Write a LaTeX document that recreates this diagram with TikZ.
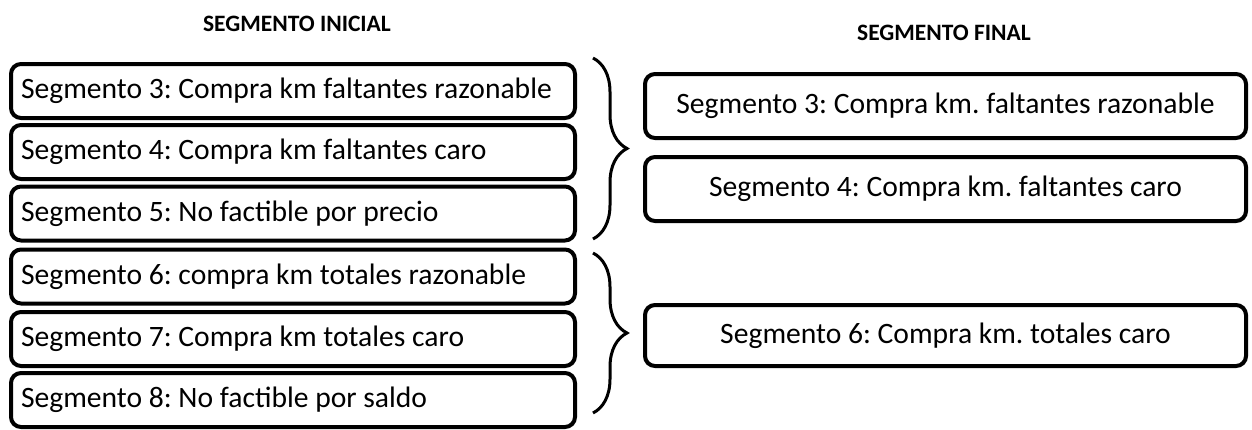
\documentclass[tikz,border=0pt]{standalone}
\usepackage{fontspec}
\setmainfont{Carlito}
\usetikzlibrary{decorations.pathreplacing}
\begin{document}
\frenchspacing
\begin{tikzpicture}[x=1pt,y=-1pt,
  segbox/.style={draw=black,line width=4pt,rounded corners=10pt,inner xsep=10pt,inner ysep=0pt,
    font=\fontsize{29.6}{34}\selectfont\frenchspacing},
  leftbox/.style={segbox,minimum width=564pt,minimum height=54pt,text width=544pt,align=flush left},
  rightbox/.style={segbox,minimum width=601pt,align=center},
  header/.style={font=\fontsize{23.5}{28}\selectfont\bfseries},
  bracestyle/.style={draw=black,line width=3pt,decorate,decoration={brace,amplitude=34pt}}]
\path[use as bounding box] (0,0) rectangle (1252,429);
\node[header] (h1) at (297,24) {SEGMENTO INICIAL};
\node[header] (h2) at (944,33) {SEGMENTO FINAL};
\node[leftbox] (l3) at (293,91) {Segmento 3: Compra km faltantes razonable};
\node[leftbox] (l4) at (293,152) {Segmento 4: Compra km faltantes caro};
\node[leftbox] (l5) at (293,213.5) {Segmento 5: No factible por precio};
\node[leftbox] (l6) at (293,276.5) {Segmento 6: compra km totales razonable};
\node[leftbox] (l7) at (293,339) {Segmento 7: Compra km totales caro};
\node[leftbox] (l8) at (293,400) {Segmento 8: No factible por saldo};
\node[rightbox,minimum height=64pt] (r3) at (945.5,106) {Segmento 3: Compra km. faltantes razonable};
\node[rightbox,minimum height=64pt] (r4) at (945.5,189) {Segmento 4: Compra km. faltantes caro};
\node[rightbox,minimum height=61pt] (r6) at (945.5,335.5) {Segmento 6: Compra km. totales caro};
\coordinate (b1t) at (593,58);
\coordinate (b1b) at (593,239);
\coordinate (b2t) at (593,253);
\coordinate (b2b) at (593,413);
\draw[bracestyle] (b1t) -- (b1b);
\draw[bracestyle] (b2t) -- (b2b);
\end{tikzpicture}
\end{document}
